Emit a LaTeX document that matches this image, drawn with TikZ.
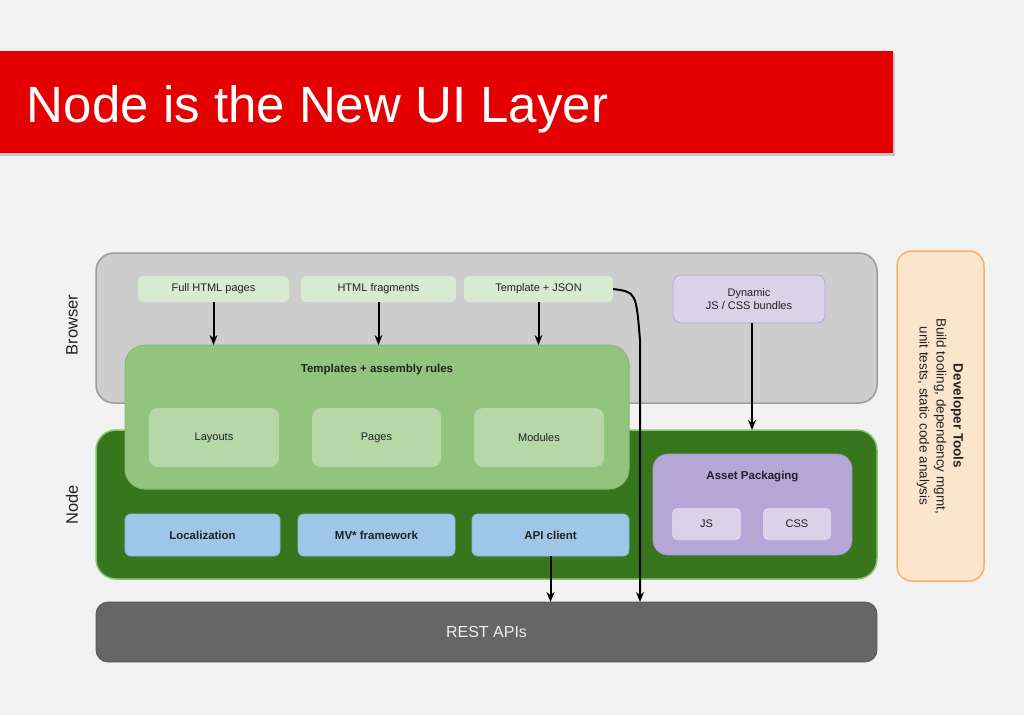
\documentclass[tikz,border=0pt]{standalone}
\usepackage{fontspec}
\setmainfont{Liberation Sans}
\usetikzlibrary{arrows.meta}
\definecolor{bgc}{HTML}{F2F2F2}
\definecolor{redc}{HTML}{E40000}
\definecolor{browserfill}{HTML}{CDCDCD}
\definecolor{browserdraw}{HTML}{9C9C9C}
\definecolor{nodefill}{HTML}{38761D}
\definecolor{nodedraw}{HTML}{8CC279}
\definecolor{tplfill}{HTML}{93C47D}
\definecolor{tpldraw}{HTML}{86BB70}
\definecolor{innerfill}{HTML}{B6D7A8}
\definecolor{srcfill}{HTML}{D9EAD3}
\definecolor{bluefill}{HTML}{9FC5E8}
\definecolor{bluedraw}{HTML}{8DB8E0}
\definecolor{purplefill}{HTML}{B4A7D6}
\definecolor{purpledraw}{HTML}{A596CD}
\definecolor{lpurple}{HTML}{D9D2E9}
\definecolor{devfill}{HTML}{FCE5CD}
\definecolor{devdraw}{HTML}{F6B26B}
\definecolor{restfill}{HTML}{666666}
\definecolor{txt}{HTML}{222222}
\begin{document}
\begin{tikzpicture}[x=1pt,y=-1pt,
  every node/.style={inner sep=0pt, outer sep=0pt, text=txt},
  box/.style={rectangle, rounded corners=#1},
  box/.default=6pt,
  lbl/.style={font=\fontsize{11}{13}\selectfont},
  blbl/.style={font=\fontsize{11.5}{13}\selectfont\bfseries},
  side/.style={font=\fontsize{16.5}{18}\selectfont, rotate=90, text=txt},
  arr/.style={draw=black, line width=2pt, -{Stealth[length=10pt,width=8pt]}}
]
\useasboundingbox (0,0) rectangle (1024,715);
\fill[bgc] (0,0) rectangle (1024,715);
% title banner
\fill[black!22] (0,53) rectangle (895,156);
\fill[redc] (0,51) rectangle (893,153);
\node[anchor=base west, text=white, font=\fontsize{51}{56}\selectfont] (title) at (27,122) {Node is the New UI Layer};

% big layers
\node[box=18pt, draw=browserdraw, line width=1.5pt, fill=browserfill, minimum width=781pt, minimum height=150pt] (browser) at (486.5,328) {};
\node[box=20pt, draw=nodedraw, line width=1.5pt, fill=nodefill, minimum width=781pt, minimum height=149pt] (nodebox) at (486.5,504.5) {};
\node[box=12pt, draw=restfill!85!black, line width=0.8pt, fill=restfill, minimum width=781pt, minimum height=60pt, text=white!93!black, font=\fontsize{16}{18}\selectfont] (rest) at (486.5,632) {REST APIs};
\node[side] (browserlbl) at (72,325) {Browser};
\node[side] (nodelbl) at (72,505) {Node};

% templates
\node[box=20pt, draw=tpldraw, line width=1pt, fill=tplfill, minimum width=504pt, minimum height=144pt] (tpl) at (377,417) {};
\node[blbl] (tpltitle) at (377,370) {Templates + assembly rules};
\node[box=9pt, fill=innerfill, minimum width=130pt, minimum height=59pt, lbl] (layouts) at (214,437.5) {Layouts};
\node[box=9pt, fill=innerfill, minimum width=129pt, minimum height=59pt, lbl] (pages) at (376.5,437.5) {Pages};
\node[box=9pt, fill=innerfill, minimum width=130pt, minimum height=59pt, lbl] (modules) at (539,437.5) {Modules};

% sources
\node[box=5pt, fill=srcfill, minimum width=151pt, minimum height=26pt, lbl] (full) at (213.5,289) {Full HTML pages};
\node[box=5pt, fill=srcfill, minimum width=155pt, minimum height=26pt, lbl] (frag) at (378.5,289) {HTML fragments};
\node[box=5pt, fill=srcfill, minimum width=149pt, minimum height=26pt, lbl] (tjson) at (538.5,289) {Template + JSON};
\node[box=8pt, draw=purplefill, line width=0.8pt, fill=lpurple, minimum width=152pt, minimum height=48pt, lbl, align=center] (dyn) at (749,299) {Dynamic\\JS / CSS bundles};

% node components
\node[box=6pt, draw=bluedraw, line width=0.8pt, fill=bluefill, minimum width=155pt, minimum height=42pt, blbl] (loc) at (202.5,535) {Localization};
\node[box=6pt, draw=bluedraw, line width=0.8pt, fill=bluefill, minimum width=157pt, minimum height=42pt, blbl] (mv) at (376.5,535) {MV* framework};
\node[box=6pt, draw=bluedraw, line width=0.8pt, fill=bluefill, minimum width=157pt, minimum height=42pt, blbl] (api) at (550.5,535) {API client};

\node[box=15pt, draw=purpledraw, line width=0.8pt, fill=purplefill, minimum width=199pt, minimum height=101pt] (asset) at (752.5,504.5) {};
\node[blbl] (assettitle) at (752.5,477) {Asset Packaging};
\node[box=5pt, fill=lpurple, minimum width=69pt, minimum height=32pt, lbl] (js) at (706.5,524) {JS};
\node[box=5pt, fill=lpurple, minimum width=68pt, minimum height=32pt, lbl] (css) at (797,524) {CSS};

% developer tools
\node[box=15pt, draw=devdraw, line width=1.5pt, fill=devfill, minimum width=87pt, minimum height=330pt] (dev) at (940.5,416) {};
\node[rotate=-90, align=center, font=\fontsize{13.5}{17}\selectfont] (devtxt) at (940,416) {\textbf{Developer Tools}\\Build tooling, dependency mgmt,\\unit tests, static code analysis};

% arrows
\draw[arr] (full.south) -- (full.south |- tpl.north);
\draw[arr] (frag.south) -- (frag.south |- tpl.north);
\draw[arr] (tjson.south) -- (tjson.south |- tpl.north);
\draw[arr] ([xshift=3pt]dyn.south) -- ([xshift=3pt]dyn.south |- nodebox.north);
\draw[arr] (api.south) -- (api.south |- rest.north);
\coordinate (cv) at (640,340);
\draw[arr] (tjson.east) .. controls (636,292) .. (cv) -- (cv |- rest.north);
\end{tikzpicture}
\end{document}
